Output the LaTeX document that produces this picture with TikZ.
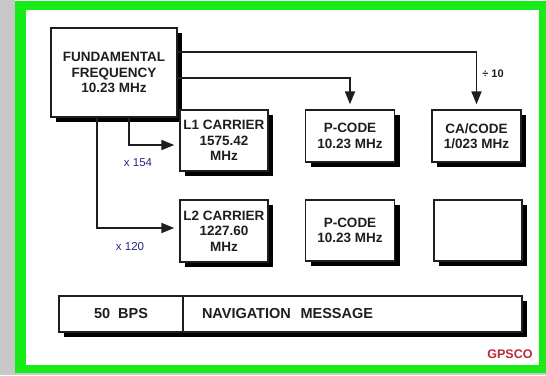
\documentclass[tikz,border=0pt]{standalone}
\usepackage{fontspec}
\setmainfont{Liberation Sans}
\usetikzlibrary{arrows.meta,shadows}
\definecolor{framegreen}{RGB}{24,236,24}
\definecolor{sidegrey}{RGB}{200,200,200}
\definecolor{labblue}{RGB}{40,40,130}
\definecolor{sigred}{RGB}{190,40,60}
\definecolor{inkc}{RGB}{30,30,30}
\newcommand{\boxfnt}{\bfseries\fontsize{13.5}{15.5}\selectfont}
\tikzset{
  blk/.style={draw=inkc, line width=1.4pt, fill=white, text=inkc,
    general shadow={fill=black, shadow xshift=5pt, shadow yshift=-5pt},
    align=center, inner sep=1pt, font=\boxfnt},
  conn/.style={draw=inkc, line width=1.8pt,
    -{Triangle[length=13pt,width=10pt]}, shorten >=5pt},
  multlab/.style={text=labblue, font=\fontsize{11.5}{13}\selectfont, inner sep=0pt},
}
\begin{document}
\begin{tikzpicture}[x=1pt,y=-1pt]
\useasboundingbox (0,0) rectangle (546,375);
% background and frame
\fill[sidegrey] (0,0) rectangle (546,375);
\fill[white] (15,0) rectangle (546,1);
\fill[framegreen] (15,1) rectangle (546,373);
\fill[white] (26,10) rectangle (539,365);

% boxes
\node[blk, minimum width=126pt, minimum height=89pt] (fund) at (114,72.5)
  {FUNDAMENTAL\\FREQUENCY\\10.23 MHz};
\node[blk, minimum width=88pt, minimum height=61pt] (l1) at (224,140.5)
  {L1 CARRIER\\1575.42\\MHz};
\node[blk, minimum width=89pt, minimum height=52pt] (p1) at (350,136)
  {P-CODE\\10.23 MHz};
\node[blk, minimum width=89pt, minimum height=52pt] (ca) at (476.5,136)
  {CA/CODE\\1/023 MHz};
\node[blk, minimum width=88pt, minimum height=62pt] (l2) at (224,231)
  {L2 CARRIER\\1227.60\\MHz};
\node[blk, minimum width=89pt, minimum height=61pt] (p2) at (350,230.5)
  {P-CODE\\10.23 MHz};
\node[blk, minimum width=88pt, minimum height=61pt] (empty) at (478,230.5) {};

% navigation message bar
\node[blk, font=\bfseries\fontsize{14.5}{16}\selectfont, minimum width=124pt, minimum height=36pt] (bps) at (121,314)
  {50\ \ BPS};
\node[blk, font=\bfseries\fontsize{14.5}{16}\selectfont, minimum height=36pt, inner xsep=19pt, text width=301pt, align=left]
  (nav) at (352.5,314) {NAVIGATION\ \ MESSAGE};

% connector junctions
\coordinate (j1) at (476.5,52);
\coordinate (j2) at (350,78);
\coordinate (j3) at (129,145);
\coordinate (j4) at (97,228);

\draw[conn] (j1 -| fund.east) -- (j1) -- (ca.north);
\draw[conn] (j2 -| fund.east) -- (j2) -- (p1.north);
\draw[conn] (j3 |- fund.south) -- (j3) -- (j3 -| l1.west);
\draw[conn] (j4 |- fund.south) -- (j4) -- (j4 -| l2.west);

% labels
\node[multlab] (m154) at (138,163) {x 154};
\node[multlab] (m120) at (130,247) {x 120};
\node[text=inkc, font=\bfseries\fontsize{11}{13}\selectfont, inner sep=0pt] (d10) at (493,74) {÷ 10};
\node[text=sigred, font=\bfseries\fontsize{12.5}{14}\selectfont, inner sep=0pt] (sig) at (510,354) {GPSCO};
\end{tikzpicture}
\end{document}
